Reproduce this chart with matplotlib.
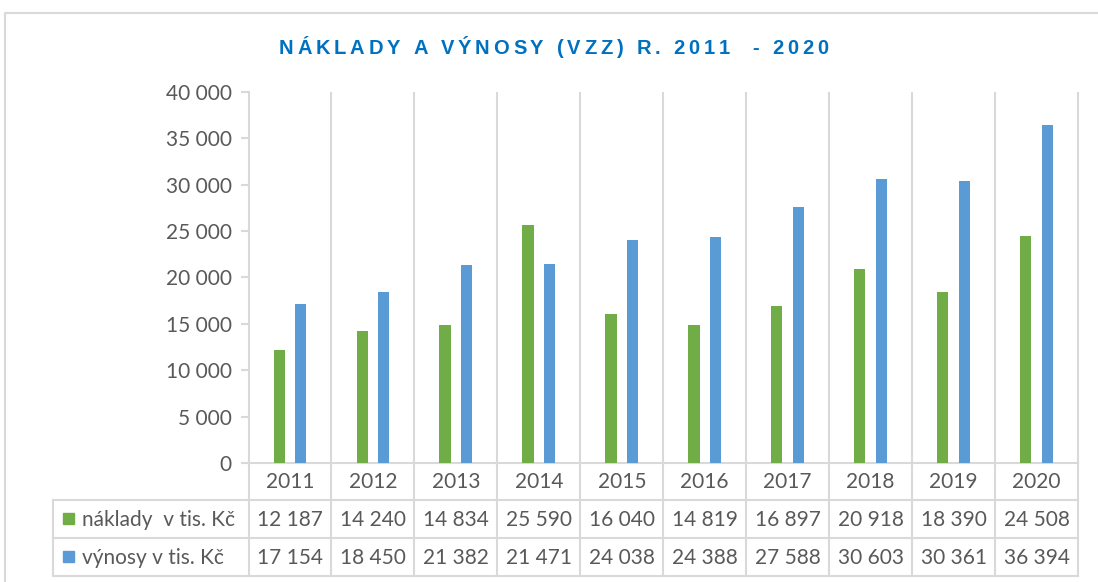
import matplotlib
matplotlib.use("Agg")
import matplotlib.pyplot as plt
import numpy as np
from matplotlib.lines import Line2D
from matplotlib.patches import Rectangle
from matplotlib import font_manager

# ---- data ----
years = ["2011", "2012", "2013", "2014", "2015", "2016", "2017", "2018", "2019", "2020"]
naklady = [12187, 14240, 14834, 25590, 16040, 14819, 16897, 20918, 18390, 24508]
vynosy = [17154, 18450, 21382, 21471, 24038, 24388, 27588, 30603, 30361, 36394]
series_labels = ["náklady  v tis. Kč", "výnosy v tis. Kč"]
title = "NÁKLADY A VÝNOSY (VZZ) R. 2011  - 2020"
yticks = [0, 5000, 10000, 15000, 20000, 25000, 30000, 35000, 40000]

# ---- style ----
GREEN = "#70ad47"
BLUE = "#5b9bd5"
GRID = "#d9d9d9"
TXT = "#595959"
TITLE_C = "#0070c0"
FONT = "Lato"
FS = 15

available = {f.name for f in font_manager.fontManager.ttflist}
TITLE_FONT = "Liberation Sans Narrow" if "Liberation Sans Narrow" in available else "Liberation Sans"

W, H = 1098, 582
fig = plt.figure(figsize=(W / 100, H / 100), dpi=100)


def fx(px):
    return px / W


def fy(py):
    return 1 - py / H


def fmt(v):
    return f"{v:,}".replace(",", " ")


# outer chart frame
fig.add_artist(Line2D([fx(4.5), fx(4.5), 1.01], [-0.01, fy(13), fy(13)],
                      transform=fig.transFigure, color=GRID, lw=1.5))

# ---- main axes ----
AX_L, AX_R, AX_T, AX_B = 248.5, 1078.0, 91.7, 463.0
ax = fig.add_axes([fx(AX_L), fy(AX_B), (AX_R - AX_L) / W, (AX_B - AX_T) / H])
x = np.arange(len(years))
bw, off = 0.135, 0.13
ax.bar(x - off, naklady, bw, color=GREEN, zorder=3)
ax.bar(x + off, vynosy, bw, color=BLUE, zorder=3)
ax.set_xlim(-0.5, len(years) - 0.5)
ax.set_ylim(0, 40000)
ax.vlines(np.arange(0.5, len(years)), 0, 40000, color=GRID, lw=1.5, clip_on=False, zorder=1)
for s in ("top", "right"):
    ax.spines[s].set_visible(False)
for s in ("left", "bottom"):
    ax.spines[s].set_color(GRID)
    ax.spines[s].set_linewidth(1.5)
ax.set_xticks([])
ax.set_yticks(yticks)
ax.set_yticklabels([fmt(v) for v in yticks], fontfamily=FONT, fontsize=FS, color=TXT)
ax.tick_params(axis="y", length=6, width=1.5, color=GRID, pad=6)
ax.patch.set_alpha(0)

# ---- data table ----
TB_L, TB_B = 52.7, 575.7
ROW1, ROW2 = 500.0, 537.7
cw = (AX_R - AX_L) / len(years)


def dx(px):
    return (px - AX_L) / cw - 0.5


tax = fig.add_axes([fx(TB_L), fy(TB_B), (AX_R - TB_L) / W, (TB_B - AX_B) / H])
tax.set_xlim(dx(TB_L), len(years) - 0.5)
tax.set_ylim(TB_B, AX_B)
tax.axis("off")
lk = dict(color=GRID, lw=1.5, clip_on=False)
for b in np.arange(-0.5, len(years)):
    tax.plot([b, b], [AX_B, TB_B], **lk)
tax.plot([dx(TB_L), dx(TB_L)], [ROW1, TB_B], **lk)
for yy in (ROW1, ROW2, TB_B):
    tax.plot([dx(TB_L), len(years) - 0.5], [yy, yy], **lk)

tk = dict(fontfamily=FONT, fontsize=FS, color=TXT, ha="center", va="center")
for i, yr in enumerate(years):
    tax.text(i, (AX_B + ROW1) / 2 + 1, yr, **tk)
    tax.text(i, (ROW1 + ROW2) / 2 + 1, fmt(naklady[i]), **tk)
    tax.text(i, (ROW2 + TB_B) / 2 + 1, fmt(vynosy[i]), **tk)

for (r0, r1), lab, col in zip([(ROW1, ROW2), (ROW2, TB_B)], series_labels, [GREEN, BLUE]):
    cy = (r0 + r1) / 2
    tax.add_patch(Rectangle((dx(62.7), cy - 5.5), dx(74) - dx(62.7), 11, color=col, clip_on=False))
    tax.text(dx(81.5), cy + 1, lab, fontfamily=FONT, fontsize=FS, color=TXT, ha="left", va="center")

# ---- title with letter spacing ----
renderer = fig.canvas.get_renderer()
tprops = dict(fontfamily=TITLE_FONT, fontsize=14.5, fontweight="bold", color=TITLE_C)


def width_of(s):
    t = fig.text(0, 0, s, **tprops)
    w = t.get_window_extent(renderer).width
    t.remove()
    return w


base = width_of("XX")
widths = [width_of("X" + ch + "X") - base for ch in title]
T_L, T_R, T_CY = 279.0, 828.0, 49.0
gap = (T_R - T_L - sum(widths)) / (len(title) - 1)
xpos = T_L
for ch, w in zip(title, widths):
    if ch != " ":
        fig.text(fx(xpos), fy(T_CY), ch, ha="left", va="center", **tprops)
    xpos += w + gap

fig.savefig("out.png", dpi=100, facecolor="white")
